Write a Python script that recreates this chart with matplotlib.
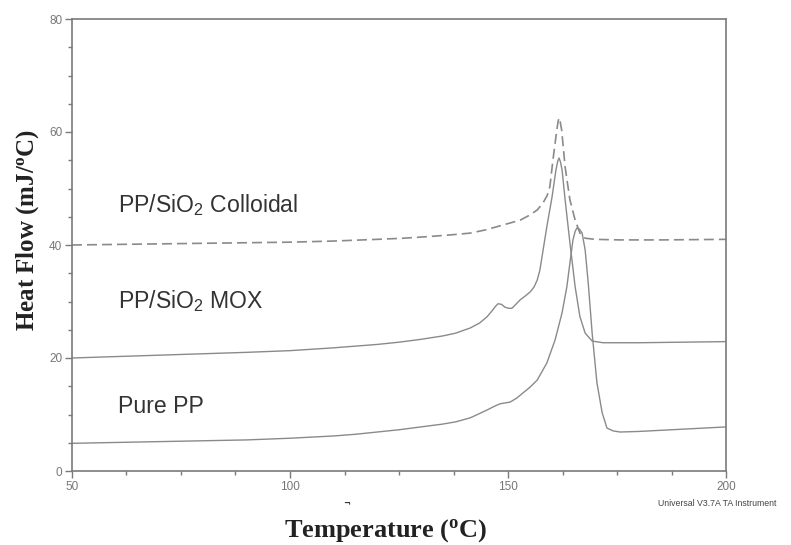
import numpy as np
import matplotlib
matplotlib.use("Agg")
import matplotlib.pyplot as plt
from matplotlib.ticker import MultipleLocator

# DSC traces (temperature in C, heat flow in mJ/C)
colloidal_t = [50, 60, 70, 80, 90, 100, 110, 120, 126, 132, 137, 141.3, 145, 148.2, 150.5, 152.8, 155,
               156.7, 158, 159, 159.6, 160.3, 160.8, 161.2, 161.5, 161.7, 161.95, 162.3, 163.1, 164.2,
               165.4, 166.5, 167.7, 170, 175.7, 185, 200]
colloidal_y = [40.0, 40.1, 40.2, 40.3, 40.4, 40.5, 40.7, 41.0, 41.2, 41.5, 41.8, 42.1, 42.7, 43.4, 43.9, 44.4, 45.3,
               46.2, 47.4, 48.8, 50.3, 55.0, 58.0, 60.4, 61.9, 62.5, 61.9, 60.4, 53.8, 48.0,
               44.4, 42.1, 41.2, 41.0, 40.9, 40.9, 41.0]

mox_t = [50, 60, 70, 80, 90, 100, 110, 120, 125, 130, 135, 138, 141.3, 143.5, 145.2, 146.5, 147.2, 147.7,
         148.5, 149.3, 150.1, 150.9, 151.8, 152.8, 154, 155.1, 156, 156.7, 157.3, 157.8, 158.9, 160.1,
         161.0, 161.4, 161.7, 162.0, 162.4, 163.1, 164.2, 165.4, 166.5, 167.7, 169.3, 171.8, 180, 190, 200]
mox_y = [20.0, 20.25, 20.5, 20.75, 21.0, 21.3, 21.8, 22.4, 22.8, 23.3, 23.9, 24.4, 25.3, 26.2, 27.3, 28.5, 29.2, 29.6,
         29.5, 29.0, 28.8, 28.8, 29.5, 30.3, 31.0, 31.7, 32.6, 33.8, 35.5, 37.9, 43.2, 48.5,
         53.3, 54.8, 55.4, 54.8, 53.3, 48.0, 40.4, 32.6, 27.3, 24.4, 23.0, 22.7, 22.7, 22.8, 22.9]

pure_t = [50, 60, 70, 80, 90, 100, 105, 110, 115, 120, 125, 130, 135, 138, 141.3, 143, 145.2, 147, 148.2,
          150.5, 152, 153.4, 155, 156.7, 158.9, 160.8, 162.4, 163.5, 164.2, 164.9, 165.4, 165.8, 166.4,
          167.0, 167.7, 168.4, 169.3, 170.4, 171.6, 172.7, 174.1, 175.7, 180, 190, 200]
pure_y = [4.9, 5.05, 5.2, 5.35, 5.5, 5.8, 6.0, 6.2, 6.5, 6.9, 7.3, 7.8, 8.3, 8.7, 9.4, 10.0, 10.8, 11.5, 11.9,
          12.2, 12.9, 13.8, 14.8, 16.1, 19.1, 23.2, 28.0, 32.6, 36.8, 40.9, 42.4, 43.0, 42.8,
          42.1, 39.1, 33.3, 24.4, 15.6, 10.3, 7.6, 7.1, 6.9, 7.0, 7.4, 7.8]

curve_labels = [r"PP/SiO$\mathregular{_2}$ Colloidal", r"PP/SiO$\mathregular{_2}$ MOX", "Pure PP"]
label_pos = [(60.6, 47), (60.6, 30), (60.6, 11.5)]

fig = plt.figure(figsize=(7.91, 5.45), dpi=100)
ax = fig.add_axes([72 / 791, 74 / 545, 654 / 791, 452 / 545])

line_col = "#8a8a8a"
ax.plot(colloidal_t, colloidal_y, color=line_col, lw=1.2, ls=(0, (6, 3)))
ax.plot(mox_t, mox_y, color=line_col, lw=1.0)
ax.plot(pure_t, pure_y, color=line_col, lw=1.0)

for txt, (tx, ty) in zip(curve_labels, label_pos):
    ax.text(tx, ty, txt, fontsize=16.6, color="#333333", family="Liberation Sans", va="center")

ax.set_xlim(50, 200)
ax.set_ylim(0, 80)
ax.xaxis.set_major_locator(MultipleLocator(50))
ax.xaxis.set_minor_locator(MultipleLocator(12.5))
ax.yaxis.set_major_locator(MultipleLocator(20))
ax.yaxis.set_minor_locator(MultipleLocator(5))

for sp in ax.spines.values():
    sp.set_color("#7a7a7a")
    sp.set_linewidth(1.2)
ax.tick_params(which="both", direction="out", colors="#7a7a7a", labelcolor="#777777",
               labelsize=8.5, width=1.0)
ax.tick_params(which="major", length=5, pad=2)
ax.tick_params(which="minor", length=3)
for lab in ax.get_xticklabels() + ax.get_yticklabels():
    lab.set_family("Liberation Sans")

fig.text(386 / 791, 1 / 545, r"Temperature ($\mathregular{^o}$C)", fontsize=19, fontweight="bold",
         family="Liberation Serif", color="#222222", ha="center", va="bottom")
fig.text(28 / 791, 1 - 230 / 545, r"Heat Flow (mJ/$\mathregular{^o}$C)", fontsize=18, fontweight="bold",
         family="Liberation Serif", color="#222222", ha="center", va="center", rotation=90)
fig.text(658 / 791, 1 - 503 / 545, "Universal V3.7A TA Instrument", fontsize=6.3,
         family="Liberation Sans", color="#444444", ha="left", va="center")
fig.text(347 / 791, 1 - 504 / 545, "\u00ac", fontsize=6, fontweight="bold",
         family="DejaVu Sans", color="#333333", ha="center", va="center")

fig.savefig("out.png", dpi=100, facecolor="white")
